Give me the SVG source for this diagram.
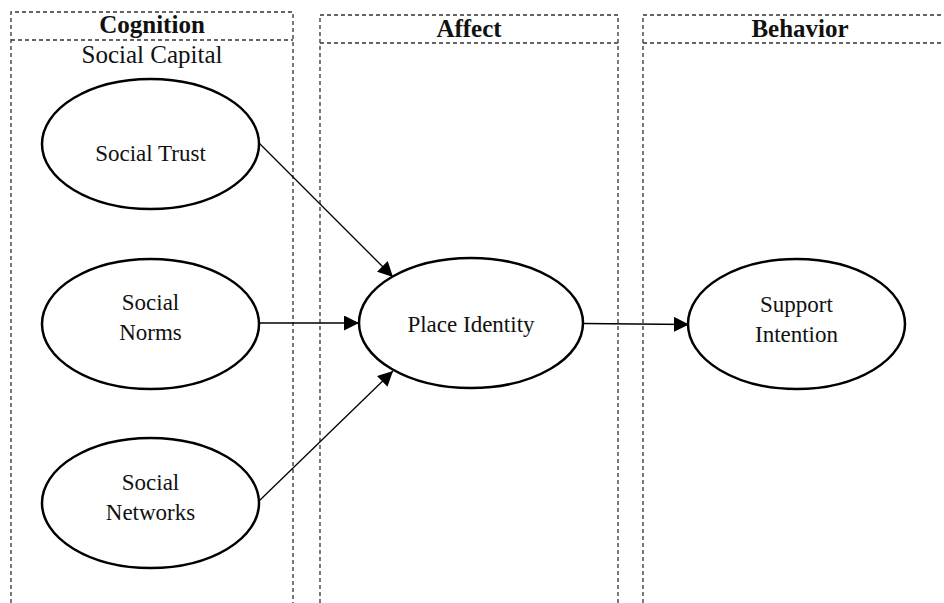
<svg xmlns="http://www.w3.org/2000/svg" width="944" height="603" viewBox="0 0 944 603">
<style>
.col{fill:none;stroke:#333;stroke-width:1.3;stroke-dasharray:4 3}
.node{fill:#fff;stroke:#000;stroke-width:2.5}
.hdr{font-family:"Liberation Serif","Times New Roman",serif;font-weight:bold;font-size:25px;fill:#111;text-anchor:middle}
.sub{font-family:"Liberation Serif","Times New Roman",serif;font-size:25px;fill:#111;text-anchor:middle}
.lbl{font-family:"Liberation Serif","Times New Roman",serif;font-size:23px;fill:#111;text-anchor:middle}
.edge{stroke:#000;stroke-width:1.3;fill:none;marker-end:url(#arr)}
</style>
<defs>
<marker id="arr" markerWidth="16" markerHeight="16" refX="15" refY="7.5" orient="auto" markerUnits="userSpaceOnUse">
<path d="M0,0 L15,7.5 L0,15 Z" fill="#000"/>
</marker>
</defs>
<rect width="944" height="603" fill="#fff"/>
<g id="col-cognition">
<path class="col" d="M11,603 V12 H293 V603 M11,40 H293"/>
<text class="hdr" x="152" y="33">Cognition</text>
<text class="sub" x="152" y="63">Social Capital</text>
</g>
<g id="col-affect">
<path class="col" d="M320,603 V15 H618 V603 M320,43 H618"/>
<text class="hdr" x="469" y="37">Affect</text>
</g>
<g id="col-behavior">
<path class="col" d="M643,603 V15 H944 M643,43 H944"/>
<text class="hdr" x="800" y="37">Behavior</text>
</g>
<g id="connectors">
<line class="edge" x1="259" y1="143" x2="393" y2="277"/>
<line class="edge" x1="259" y1="323" x2="359" y2="323"/>
<line class="edge" x1="259" y1="501" x2="393" y2="371"/>
<line class="edge" x1="583" y1="323.5" x2="689" y2="324.5"/>
</g>
<g id="social-trust">
<ellipse class="node" cx="150.5" cy="144" rx="108.5" ry="65"/>
<text class="lbl" x="150.5" y="161">Social Trust</text>
</g>
<g id="social-norms">
<ellipse class="node" cx="150.5" cy="324" rx="108.5" ry="65"/>
<text class="lbl" x="150.5" y="310">Social</text>
<text class="lbl" x="150.5" y="340">Norms</text>
</g>
<g id="social-networks">
<ellipse class="node" cx="150.5" cy="503" rx="108.5" ry="65"/>
<text class="lbl" x="150.5" y="490">Social</text>
<text class="lbl" x="150.5" y="520">Networks</text>
</g>
<g id="place-identity">
<ellipse class="node" cx="471" cy="323" rx="112" ry="65"/>
<text class="lbl" x="471" y="332">Place Identity</text>
</g>
<g id="support-intention">
<ellipse class="node" cx="796.5" cy="324" rx="108.5" ry="65"/>
<text class="lbl" x="796.5" y="312">Support</text>
<text class="lbl" x="796.5" y="342">Intention</text>
</g>
</svg>
